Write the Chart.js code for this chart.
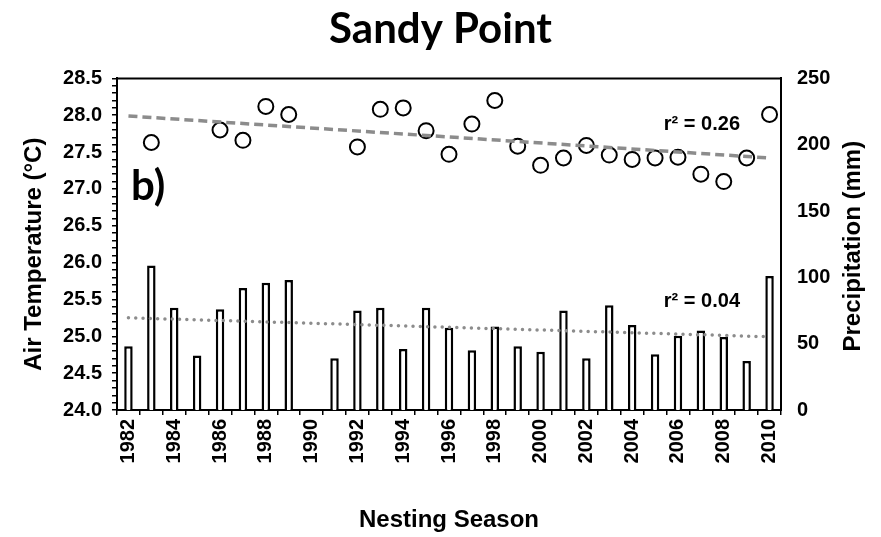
<!DOCTYPE html>
<html>
<head>
<meta charset="utf-8">
<script src="https://cdn.jsdelivr.net/npm/chart.js@4.4.0/dist/chart.umd.min.js"></script>
<style>
  body { margin: 0; background: #fff; }
  #myChart { display: block; }
</style>
</head>
<body>
<canvas id="myChart" width="881" height="537"></canvas>
<script>
var years = ['1982', '1983', '1984', '1985', '1986', '1987', '1988', '1989', '1990', '1991',
  '1992', '1993', '1994', '1995', '1996', '1997', '1998', '1999', '2000', '2001',
  '2002', '2003', '2004', '2005', '2006', '2007', '2008', '2009', '2010'];

// air temperature (°C), null = no data
var airTemp = [null, 27.63, null, null, 27.80, 27.66, 28.12, 28.01, null, null,
  27.57, 28.08, 28.10, 27.79, 27.47, 27.88, 28.20, 27.58, 27.32, 27.42,
  27.59, 27.46, 27.40, 27.42, 27.43, 27.20, 27.10, 27.42, 28.01];

// precipitation (mm)
var precip = [48, 109, 77, 41, 76, 92, 96, 98, null, 39,
  75, 77, 46, 77, 62, 45, 63, 48, 44, 75,
  39, 79, 64, 42, 56, 60, 55, 37, 101];

// trend line end points (first and last season)
var trendYears = ['1982', '2010'];
var tempTrend = [27.99, 27.42];
var precipTrend = [69.5, 55.2];

var tempTicks = [24.0, 24.5, 25.0, 25.5, 26.0, 26.5, 27.0, 27.5, 28.0, 28.5];
var precipTicks = [0, 50, 100, 150, 200, 250];

var tempR2 = 'r² = 0.26';
var precipR2 = 'r² = 0.04';

var tickFont = { family: 'Liberation Sans, Arial, sans-serif', size: 20, weight: 'bold' };
var titleFont = { family: 'Liberation Sans, Arial, sans-serif', size: 24, weight: 'bold' };

function pairs(xs, ys) {
  return xs.map(function (x, i) { return { x: x, y: ys[i] }; });
}

var options = {
  type: 'bar',
  data: {
    labels: years,
    datasets: [
      {
        type: 'line',
        label: 'temp trend',
        data: pairs(trendYears, tempTrend),
        yAxisID: 'y',
        borderColor: '#8c8c8c',
        borderWidth: 3.5,
        borderDash: [9, 5],
        pointRadius: 0,
        order: 0
      },
      {
        type: 'line',
        label: 'precip trend',
        data: pairs(trendYears, precipTrend),
        yAxisID: 'y1',
        borderColor: '#8c8c8c',
        borderWidth: 3.5,
        borderDash: [0, 7.3],
        borderCapStyle: 'round',
        pointRadius: 0,
        order: 0
      },
      {
        type: 'line',
        label: 'Air Temperature',
        data: airTemp,
        yAxisID: 'y',
        showLine: false,
        pointStyle: 'circle',
        pointRadius: 7.5,
        pointBorderWidth: 2,
        pointBorderColor: '#000',
        pointBackgroundColor: '#fff',
        order: 1
      },
      {
        label: 'Precipitation',
        data: precip,
        yAxisID: 'y1',
        backgroundColor: '#fff',
        borderColor: '#000',
        borderWidth: 2.5,
        categoryPercentage: 1,
        barPercentage: 0.37,
        order: 2
      }
    ]
  },
  options: {
    responsive: false,
    animation: false,
    layout: { padding: 0 },
    scales: {
      x: {
        offset: true,
        grid: {
          offset: true,
          drawOnChartArea: false,
          color: '#000',
          tickLength: 5,
          lineWidth: 1.5
        },
        border: { color: '#000', width: 2 },
        ticks: {
          color: '#000',
          font: tickFont,
          autoSkip: false,
          minRotation: 90,
          maxRotation: 90,
          padding: 4,
          callback: function (value, index) {
            var yr = years[index];
            return Number(yr) % 2 === 0 ? yr : '';
          }
        },
        title: {
          display: true,
          text: 'Nesting Season',
          color: '#000',
          font: titleFont,
          padding: { top: 0, bottom: 2 }
        },
        afterFit: function (scale) { scale.height = 127; }
      },
      y: {
        position: 'left',
        min: 24,
        max: 28.5,
        grid: {
          drawOnChartArea: false,
          color: '#000',
          tickLength: 5,
          lineWidth: 1.5
        },
        border: { color: '#000', width: 2 },
        ticks: {
          stepSize: 0.1,
          autoSkip: false,
          color: '#000',
          font: tickFont,
          padding: 10,
          callback: function (value) {
            var hit = tempTicks.find(function (t) { return Math.abs(t - value) < 0.001; });
            return hit === undefined ? '' : hit.toFixed(1);
          }
        },
        afterFit: function (scale) { scale.width = 117; }
      },
      y1: {
        position: 'right',
        min: 0,
        max: 250,
        grid: { display: false, drawTicks: false },
        border: { color: '#000', width: 2 },
        ticks: {
          stepSize: 50,
          color: '#000',
          font: tickFont,
          padding: 16,
          callback: function (value) {
            return precipTicks.indexOf(value) >= 0 ? String(value) : '';
          }
        },
        afterFit: function (scale) { scale.width = 100; }
      }
    },
    plugins: {
      legend: { display: false },
      tooltip: { enabled: false },
      title: {
        display: true,
        text: 'Sandy Point',
        color: '#000',
        font: { family: 'Lato, sans-serif', size: 42, weight: 'bold' },
        padding: { top: 4, bottom: 24 }
      }
    }
  },
  plugins: [
    {
      id: 'extras',
      afterDraw: function (chart) {
        var ctx = chart.ctx;
        var area = chart.chartArea;
        var y = chart.scales.y;
        var y1 = chart.scales.y1;
        var midY = (area.top + area.bottom) / 2;
        ctx.save();
        // top frame line
        ctx.strokeStyle = '#000';
        ctx.lineWidth = 2;
        ctx.beginPath();
        ctx.moveTo(area.left - 1, area.top);
        ctx.lineTo(area.right + 1, area.top);
        ctx.stroke();

        ctx.fillStyle = '#000';
        // r² labels
        ctx.font = 'bold 20px "Liberation Sans", Arial, sans-serif';
        ctx.textAlign = 'right';
        ctx.textBaseline = 'middle';
        ctx.fillText(tempR2, area.right - 41, y.getPixelForValue(27.88));
        ctx.fillText(precipR2, area.right - 41, y1.getPixelForValue(81.5));

        // panel letter
        ctx.font = 'bold 42px Lato, sans-serif';
        ctx.textAlign = 'left';
        ctx.textBaseline = 'alphabetic';
        ctx.fillText('b)', area.left + 14, area.top + 122);

        // axis titles, both read bottom to top
        ctx.font = 'bold 24px "Liberation Sans", Arial, sans-serif';
        ctx.textAlign = 'center';
        ctx.textBaseline = 'middle';
        ctx.save();
        ctx.translate(34, midY + 10);
        ctx.rotate(-Math.PI / 2);
        ctx.fillText('Air Temperature (°C)', 0, 0);
        ctx.restore();
        ctx.translate(853, midY + 2);
        ctx.rotate(-Math.PI / 2);
        ctx.fillText('Precipitation (mm)', 0, 0);
        ctx.restore();
      }
    }
  ]
};

var ctx = document.getElementById('myChart').getContext('2d');
new Chart(ctx, options);
</script>
</body>
</html>
